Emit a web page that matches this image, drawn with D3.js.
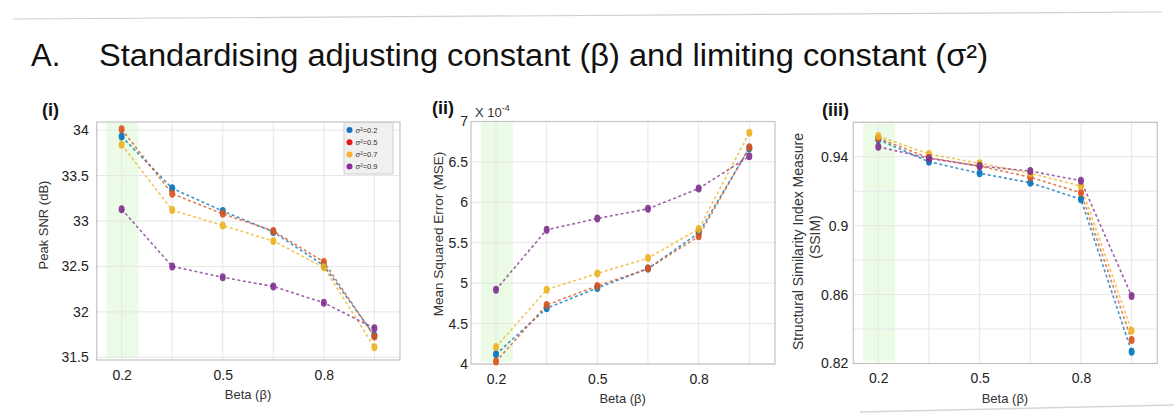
<!DOCTYPE html>
<html><head><meta charset="utf-8">
<script src="https://cdn.jsdelivr.net/npm/d3@7"></script>
<style>body{margin:0;background:#fff}svg{display:block;font-family:"Liberation Sans",Arial,sans-serif}</style>
</head><body>
<svg id="c" width="1174" height="416"></svg>
<script>
const beta = [0.2, 0.35, 0.5, 0.65, 0.8, 0.95];
const betaTicks = [0.2, 0.5, 0.8];
const betaGrid = [0.2, 0.35, 0.5, 0.65, 0.8, 0.95];
const sigmaLabels = ["σ²=0.2", "σ²=0.5", "σ²=0.7", "σ²=0.9"];

const psnr02 = [33.93, 33.36, 33.11, 32.88, 32.51, 31.74];
const psnr05 = [34.01, 33.30, 33.08, 32.89, 32.55, 31.73];
const psnr07 = [33.84, 33.12, 32.95, 32.78, 32.49, 31.61];
const psnr09 = [33.13, 32.50, 32.38, 32.28, 32.10, 31.82];
const psnrTicks = [31.5, 32, 32.5, 33, 33.5, 34];

const mse02 = [4.12, 4.69, 4.94, 5.18, 5.62, 6.67];
const mse05 = [4.03, 4.73, 4.965, 5.18, 5.58, 6.68];
const mse07 = [4.21, 4.92, 5.12, 5.31, 5.67, 6.86];
const mse09 = [4.92, 5.66, 5.80, 5.92, 6.17, 6.57];
const mseTicks = [4, 4.5, 5, 5.5, 6, 6.5, 7];

const ssim02 = [0.950, 0.9371, 0.9304, 0.9249, 0.9153, 0.8268];
const ssim05 = [0.9507, 0.9394, 0.9346, 0.9281, 0.9191, 0.8336];
const ssim07 = [0.952, 0.9416, 0.9362, 0.9304, 0.9230, 0.8390];
const ssim09 = [0.9458, 0.9391, 0.9346, 0.9317, 0.9261, 0.8592];
const ssimTicks = [0.82, 0.86, 0.9, 0.94];
const ssimGrid = [0.82, 0.84, 0.86, 0.88, 0.9, 0.92, 0.94, 0.96];

const colors = ["#0072BD", "#D95319", "#EDB120", "#7E2F8E"];
const legendColors = ["#1670c4", "#e8191c", "#fbb034", "#8e2a9c"];

const svg = d3.select("#c");

// header
svg.append("line").attr("x1", 13).attr("y1", 19).attr("x2", 1162).attr("y2", 12)
  .attr("stroke", "#cfcfcf").attr("stroke-width", 1.2);
svg.append("text").attr("x", 31).attr("y", 66).attr("font-size", 31).attr("fill", "#111").text("A.");
svg.append("text").attr("x", 99).attr("y", 66).attr("font-size", 31).attr("fill", "#111")
  .attr("textLength", 889).attr("lengthAdjust", "spacingAndGlyphs")
  .text("Standardising adjusting constant (β) and limiting constant (σ²)");
svg.append("line").attr("x1", 860).attr("y1", 412).attr("x2", 1174).attr("y2", 405)
  .attr("stroke", "#d6d6d6").attr("stroke-width", 1.5);

const xDomain = [0.126, 1.026];

function panel(cfg) {
  const {left, right, top, bottom, yDomain, series, yTicks, yGrid, fmt, tag, tagX, tagY, pad} = cfg;
  const x = d3.scaleLinear().domain(xDomain).range([left, right]);
  const y = d3.scaleLinear().domain(yDomain).range([bottom, top]);
  const g = svg.append("g");
  g.append("rect").attr("x", left).attr("y", top).attr("width", right - left).attr("height", bottom - top)
    .attr("fill", "#fff");
  // green band
  g.append("rect").attr("x", x(0.155)).attr("y", top + 1).attr("width", x(0.25) - x(0.155))
    .attr("height", y(yDomain[0]) - top - 3).attr("fill", "#ecfbe6");
  // grid
  g.selectAll(".vg").data(betaGrid).join("line")
    .attr("x1", d => x(d)).attr("x2", d => x(d)).attr("y1", top).attr("y2", bottom)
    .attr("stroke", "#e6e6e6").attr("stroke-width", 1);
  g.selectAll(".hg").data(yGrid).join("line")
    .attr("x1", left).attr("x2", right).attr("y1", d => y(d)).attr("y2", d => y(d))
    .attr("stroke", "#e6e6e6").attr("stroke-width", 1);
  // axes
  const xa = g.append("g").attr("transform", `translate(0,${bottom})`)
    .call(d3.axisBottom(x).tickValues(betaTicks).tickSize(0).tickPadding(10).tickFormat(d3.format("")));
  xa.select(".domain").remove();
  xa.selectAll("text").attr("font-size", 14).attr("fill", "#222").attr("font-family", "Liberation Sans, Arial, sans-serif");
  const ya = g.append("g").attr("transform", `translate(${left},0)`)
    .call(d3.axisLeft(y).tickValues(yTicks).tickSize(0).tickPadding(pad).tickFormat(fmt));
  ya.select(".domain").remove();
  ya.selectAll("text").attr("font-size", 14).attr("fill", "#222").attr("font-family", "Liberation Sans, Arial, sans-serif");
  // frame
  g.append("rect").attr("x", left).attr("y", top).attr("width", right - left).attr("height", bottom - top)
    .attr("fill", "none").attr("stroke", "#c4c4c4").attr("stroke-width", 1.2);
  // series
  const line = d3.line().x((d, i) => x(beta[i])).y(d => y(d));
  series.forEach((s, k) => {
    g.append("path").datum(s).attr("d", line).attr("fill", "none")
      .attr("stroke", colors[k]).attr("stroke-width", 1.6).attr("stroke-dasharray", "3,2.5").attr("opacity", 0.75);
  });
  series.forEach((s, k) => {
    g.selectAll(null).data(s).join("ellipse")
      .attr("cx", (d, i) => x(beta[i])).attr("cy", d => y(d)).attr("rx", 3).attr("ry", 4)
      .attr("fill", colors[k]).attr("opacity", 0.9);
  });
  g.append("text").attr("x", (x(0.2) + x(0.95)) / 2).attr("y", bottom + 39).attr("text-anchor", "middle")
    .attr("font-size", 13).attr("fill", "#333").text("Beta (β)");
  g.append("text").attr("x", tagX).attr("y", tagY).attr("font-size", 18).attr("font-weight", "bold")
    .attr("fill", "#111").text(tag);
  return {x, y, g};
}

panel({left: 96.7, right: 400, top: 122, bottom: 360, yDomain: [31.47, 34.09],
  series: [psnr02, psnr05, psnr07, psnr09], yTicks: psnrTicks, yGrid: psnrTicks, fmt: d3.format(""),
  tag: "(i)", tagX: 42, tagY: 116, pad: 8});
panel({left: 471, right: 775, top: 121.5, bottom: 364, yDomain: [4, 7],
  series: [mse02, mse05, mse07, mse09], yTicks: mseTicks, yGrid: mseTicks, fmt: d3.format(""),
  tag: "(ii)", tagX: 432, tagY: 114, pad: 3});
panel({left: 853.3, right: 1157.3, top: 122.3, bottom: 363.5, yDomain: [0.82, 0.96],
  series: [ssim02, ssim05, ssim07, ssim09], yTicks: ssimTicks, yGrid: ssimGrid, fmt: d3.format(""),
  tag: "(iii)", tagX: 822, tagY: 116, pad: 5});

// y labels
svg.append("text").attr("transform", "translate(48,225) rotate(-90)").attr("text-anchor", "middle")
  .attr("font-size", 13).attr("fill", "#333").text("Peak SNR (dB)");
svg.append("text").attr("transform", "translate(443,234) rotate(-90)").attr("text-anchor", "middle")
  .attr("font-size", 13.5).attr("fill", "#333").text("Mean Squared Error (MSE)");
svg.append("text").attr("transform", "translate(803,241.5) rotate(-90)").attr("text-anchor", "middle")
  .attr("font-size", 14).attr("fill", "#333").text("Structural Similarity Index Measure");
svg.append("text").attr("transform", "translate(820,237) rotate(-90)").attr("text-anchor", "middle")
  .attr("font-size", 14).attr("fill", "#333").text("(SSIM)");

// exponent label
const ex = svg.append("text").attr("x", 475).attr("y", 117).attr("font-size", 13).attr("fill", "#333");
ex.append("tspan").text("X 10");
ex.append("tspan").attr("font-size", 9).attr("dy", -6).text("-4");

// legend
const lg = svg.append("g");
lg.append("rect").attr("x", 344).attr("y", 122.5).attr("width", 49).attr("height", 51.5)
  .attr("fill", "#f0f0f0").attr("stroke", "#d0d0d0").attr("stroke-width", 1);
sigmaLabels.forEach((t, k) => {
  const yy = 130 + k * 12.2;
  lg.append("circle").attr("cx", 349.5).attr("cy", yy).attr("r", 3).attr("fill", legendColors[k]);
  lg.append("text").attr("x", 355.5).attr("y", yy + 2.6).attr("font-size", 7.5).attr("fill", "#333").text(t);
});
</script>
</body></html>
